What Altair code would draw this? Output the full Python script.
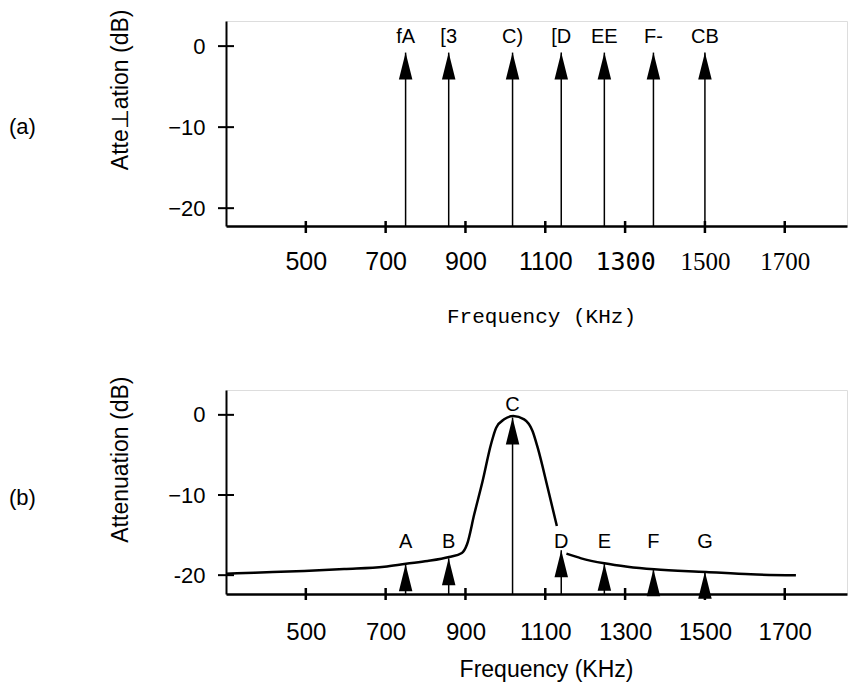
import altair as alt
import pandas as pd

# ---------------- data ----------------
freq_ticks = [500, 700, 900, 1100, 1300, 1500, 1700]
db_ticks = [0, -10, -20]

station_freq = [750, 858, 1018, 1140, 1248, 1371, 1500]
labels_a = ["fA", "[3", "C)", "[D", "EE", "F-", "CB"]
labels_b = ["A", "B", "C", "D", "E", "F", "G"]
tip_a = [-0.8, -0.8, -0.8, -0.8, -0.8, -0.8, -0.8]
tip_b = [-18.65, -17.9, -0.34, -16.9, -18.57, -19.27, -19.56]
label_y_a = [0.42, 0.42, 0.42, 0.42, 0.42, 0.42, 0.42]
label_y_b = [-16.65, -16.65, 0.48, -16.65, -16.65, -16.65, -16.65]

curve_freq_1 = [300, 371, 496, 596, 697, 751, 805, 859, 891, 904, 922, 943,
                964, 977, 997, 1020, 1047, 1068, 1081, 1106, 1129]
curve_db_1 = [-19.82, -19.69, -19.48, -19.23, -18.94, -18.57, -18.23, -17.73,
              -17.23, -16.15, -12.41, -8.25, -3.67, -1.60, -0.56, -0.14,
              -0.56, -2.01, -4.10, -9.09, -13.87]
curve_freq_2 = [1153, 1190, 1248, 1306, 1373, 1503, 1615, 1728]
curve_db_2 = [-17.32, -17.9, -18.52, -18.94, -19.27, -19.60, -19.89, -20.02]

# ---------------- tables ----------------
stations_a = pd.DataFrame({"freq": station_freq, "db": tip_a,
                           "label": labels_a, "ly": label_y_a})
stations_b = pd.DataFrame({"freq": station_freq, "db": tip_b,
                           "label": labels_b, "ly": label_y_b})
curve = pd.DataFrame({
    "freq": curve_freq_1 + curve_freq_2,
    "db": curve_db_1 + curve_db_2,
    "seg": ["1"] * len(curve_freq_1) + ["2"] * len(curve_freq_2),
})
xt = pd.DataFrame({"freq": freq_ticks})
yt = pd.DataFrame({"db": db_ticks})

W = 621
HA = 205
HB = 204
x_scale = alt.Scale(domain=[300, 1856], nice=False, zero=False)
ya_scale = alt.Scale(domain=[-22.2, 3.1], nice=False, zero=False)
yb_scale = alt.Scale(domain=[-22.35, 3.1], nice=False, zero=False)

ARROW = "M0,0L-0.25,1L0.25,1Z"
SANS = "Liberation Sans, Arial, Helvetica"
NARROW = "Liberation Sans Narrow, Arial Narrow, Liberation Sans"


def y_axis(title, title_y, label_expr=None):
    kw = dict(values=db_ticks, ticks=False, tickSize=0, grid=False,
              domainColor="black", domainWidth=2, labelFont=SANS,
              labelFontSize=22, labelColor="black", labelPadding=21,
              title=title, titleAngle=270, titleAlign="right",
              titleBaseline="middle", titleX=-106, titleY=title_y,
              titleFont=SANS, titleFontSize=23, titleFontWeight="normal",
              titleColor="black")
    if label_expr:
        kw["labelExpr"] = label_expr
    return alt.Axis(**kw)


def panel(stations, yscale, H, xaxis, yaxis, label_font, label_size,
          tag, tag_y, with_curve, tick_up, tick_down):
    X = alt.X("freq:Q", scale=x_scale, axis=xaxis, title=xaxis.title)
    Y = alt.Y("db:Q", scale=yscale, axis=yaxis, title=yaxis.title)
    Yl = alt.Y("ly:Q", scale=yscale, axis=yaxis, title=yaxis.title)
    layers = []
    if with_curve:
        layers.append(
            alt.Chart(curve).mark_line(color="black", strokeWidth=2.5,
                                       interpolate="monotone").encode(
                x=X, y=Y, detail="seg:N")
        )
    layers.append(
        alt.Chart(stations).mark_rule(color="black", strokeWidth=1.5).encode(
            x=X, y=Y, y2=alt.value(H))
    )
    layers.append(
        alt.Chart(stations).mark_point(shape=ARROW, size=2916, filled=True,
                                       color="black", opacity=1,
                                       strokeWidth=0).encode(x=X, y=Y)
    )
    layers.append(
        alt.Chart(stations).mark_text(font=label_font, fontSize=label_size,
                                      baseline="alphabetic", align="center",
                                      color="black").encode(
            x=X, y=Yl, text="label:N")
    )
    layers.append(
        alt.Chart(xt).mark_rule(color="black", strokeWidth=2.5).encode(
            x=X, y=alt.value(H - tick_up), y2=alt.value(H + tick_down))
    )
    layers.append(
        alt.Chart(yt).mark_rule(color="black", strokeWidth=2).encode(
            y=Y, x=alt.value(-8), x2=alt.value(8))
    )
    layers.append(
        alt.Chart(pd.DataFrame({"t": [tag]})).mark_text(
            font=SANS, fontSize=22, align="left", baseline="middle",
            color="black").encode(
            text="t:N", x=alt.value(-217), y=alt.value(tag_y))
    )
    return alt.layer(*layers).properties(width=W, height=H)


xaxis_a = alt.Axis(
    values=freq_ticks, format="d", ticks=False, tickSize=0, grid=False,
    domainColor="black", domainWidth=2.5,
    labelFont={"condition": [
        {"test": "datum.value == 1100", "value": SANS},
        {"test": "datum.value == 1300", "value": "DejaVu Sans Mono"},
        {"test": "datum.value >= 1500", "value": "Liberation Serif"},
    ], "value": NARROW},
    labelFontSize=25, labelColor="black", labelPadding=23,
    labelBaseline="top", labelFlush=False, labelOverlap=False,
    title="Frequency (KHz)", titleFont="Liberation Mono", titleFontSize=21,
    titleFontWeight="normal", titleColor="black", titleX=315, titleY=96,
    titleBaseline="alphabetic", titleAlign="center",
)
xaxis_b = alt.Axis(
    values=freq_ticks, format="d", ticks=False, tickSize=0, grid=False,
    domainColor="black", domainWidth=2.5,
    labelFont=SANS, labelFontSize=24, labelColor="black", labelPadding=26,
    labelBaseline="top", labelFlush=False, labelOverlap=False,
    title="Frequency (KHz)", titleFont=SANS, titleFontSize=23,
    titleFontWeight="normal", titleColor="black", titleX=320, titleY=82,
    titleBaseline="alphabetic", titleAlign="center",
)

pa = panel(stations_a, ya_scale, HA, xaxis_a,
           y_axis("Atte\u22a5ation (dB)", -12), NARROW, 20, "(a)", 106,
           False, 5, 7)
pb = panel(stations_b, yb_scale, HB, xaxis_b,
           y_axis("Attenuation (dB)", -14,
                  "datum.value == -20 ? '-20' : datum.label"),
           SANS, 20, "(b)", 108, True, 6, 6)

chart = alt.vconcat(pa, pb, spacing=164, bounds="flush").properties(
    padding=0
).configure_view(strokeWidth=0, stroke="transparent").configure(
    background="white")

chart.save("out.html", embed_options={"renderer": "svg", "actions": False})
